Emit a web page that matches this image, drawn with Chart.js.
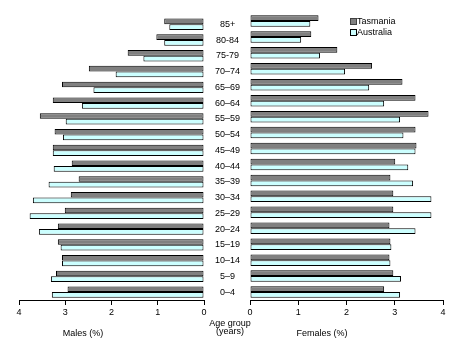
<!DOCTYPE html>
<html><head><meta charset="utf-8">
<script src="https://cdn.jsdelivr.net/npm/chart.js@4.4.1/dist/chart.umd.min.js"></script>
<style>
html,body{margin:0;padding:0;background:#fff;}
#wrap{position:relative;width:464px;height:358px;overflow:hidden;font-family:"Liberation Sans",Arial,sans-serif;font-size:9px;color:#000;}
canvas{position:absolute;left:0;top:0;}
.t{position:absolute;white-space:nowrap;line-height:10px;height:10px;}
.c{transform:translateX(-50%);text-align:center;}
.sq{position:absolute;width:5px;height:5px;border:1px solid #000;}
</style></head><body>
<div id="wrap">
<canvas id="m" width="464" height="358" style="width:464px;height:358px"></canvas>
<canvas id="f" width="464" height="358" style="width:464px;height:358px"></canvas>
<div class="t c" style="left:230px;top:318px;">Age group</div>
<div class="t c" style="left:230px;top:326px;">(years)</div>
<div class="t c" style="left:83px;top:328px;">Males (%)</div>
<div class="t c" style="left:322px;top:328px;">Females (%)</div>
<div class="sq" style="left:350px;top:18px;background:#808080;border-color:#404040;"></div>
<div class="t" style="left:357px;top:16px;">Tasmania</div>
<div class="sq" style="left:350px;top:29px;background:#ccffff;"></div>
<div class="t" style="left:357px;top:27px;">Australia</div>
</div>
<script>
const ageGroups = ["85+","80-84","75-79","70–74","65–69","60–64","55–59","50–54","45–49","40–44","35–39","30–34","25–29","20–24","15–19","10–14","5–9","0–4"];
const maleTasmania   = [0.86,1.03,1.65,2.49,3.07,3.27,3.55,3.23,3.27,2.86,2.71,2.88,3.01,3.16,3.16,3.07,3.20,2.95];
const maleAustralia  = [0.75,0.86,1.31,1.91,2.39,2.64,2.99,3.05,3.27,3.25,3.36,3.70,3.77,3.57,3.10,3.07,3.31,3.29];
const femaleTasmania = [1.42,1.27,1.81,2.53,3.16,3.43,3.70,3.43,3.45,3.01,2.91,2.97,2.97,2.89,2.91,2.89,2.97,2.78];
const femaleAustralia= [1.25,1.06,1.45,1.97,2.47,2.78,3.11,3.18,3.43,3.28,3.38,3.76,3.76,3.43,2.93,2.91,3.13,3.11];
const xTicks = [0,1,2,3,4];
const seriesNames = ["Tasmania","Australia"];

const FONT = {family:"'Liberation Sans', Arial, sans-serif", size:9};
function ds(label, data, color){
  return {label, data, backgroundColor:color, borderColor:'#000', borderWidth:1,
    borderSkipped:false, categoryPercentage:0.72, barPercentage:1.0};
}
function xScale(reverse){
  return {type:'linear', min:xTicks[0], max:xTicks[xTicks.length-1], reverse,
    afterBuildTicks: s => { s.ticks = xTicks.map(v => ({value:v})); },
    ticks:{color:'#000', font:FONT, padding:2, maxRotation:0},
    grid:{drawOnChartArea:false, drawTicks:true, tickLength:5, color:'#000', lineWidth:1},
    border:{display:true, color:'#000', width:1},
    afterFit: s => { s.height = 20; }};
}
new Chart(document.getElementById('m'), {
  type:'bar',
  data:{labels:ageGroups, datasets:[ds(seriesNames[0], maleTasmania, '#808080'), ds(seriesNames[1], maleAustralia, '#ccffff')]},
  options:{responsive:false, animation:false, indexAxis:'y',
    layout:{padding:{left:19, right:214, top:13, bottom:38}},
    plugins:{legend:{display:false}, tooltip:{enabled:false}},
    scales:{
      x:xScale(true),
      y:{position:'right', grid:{display:false, drawTicks:false}, border:{display:false},
         ticks:{crossAlign:'center', padding:11, color:'#000', font:FONT, autoSkip:false},
         afterFit: s => { s.width = 46; }}
    }}
});
new Chart(document.getElementById('f'), {
  type:'bar',
  data:{labels:ageGroups, datasets:[ds(seriesNames[0], femaleTasmania, '#808080'), ds(seriesNames[1], femaleAustralia, '#ccffff')]},
  options:{responsive:false, animation:false, indexAxis:'y',
    layout:{padding:{left:250, right:21, top:13, bottom:38}},
    plugins:{legend:{display:false}, tooltip:{enabled:false}},
    scales:{
      x:xScale(false),
      y:{display:false}
    }}
});
</script>
</body></html>
